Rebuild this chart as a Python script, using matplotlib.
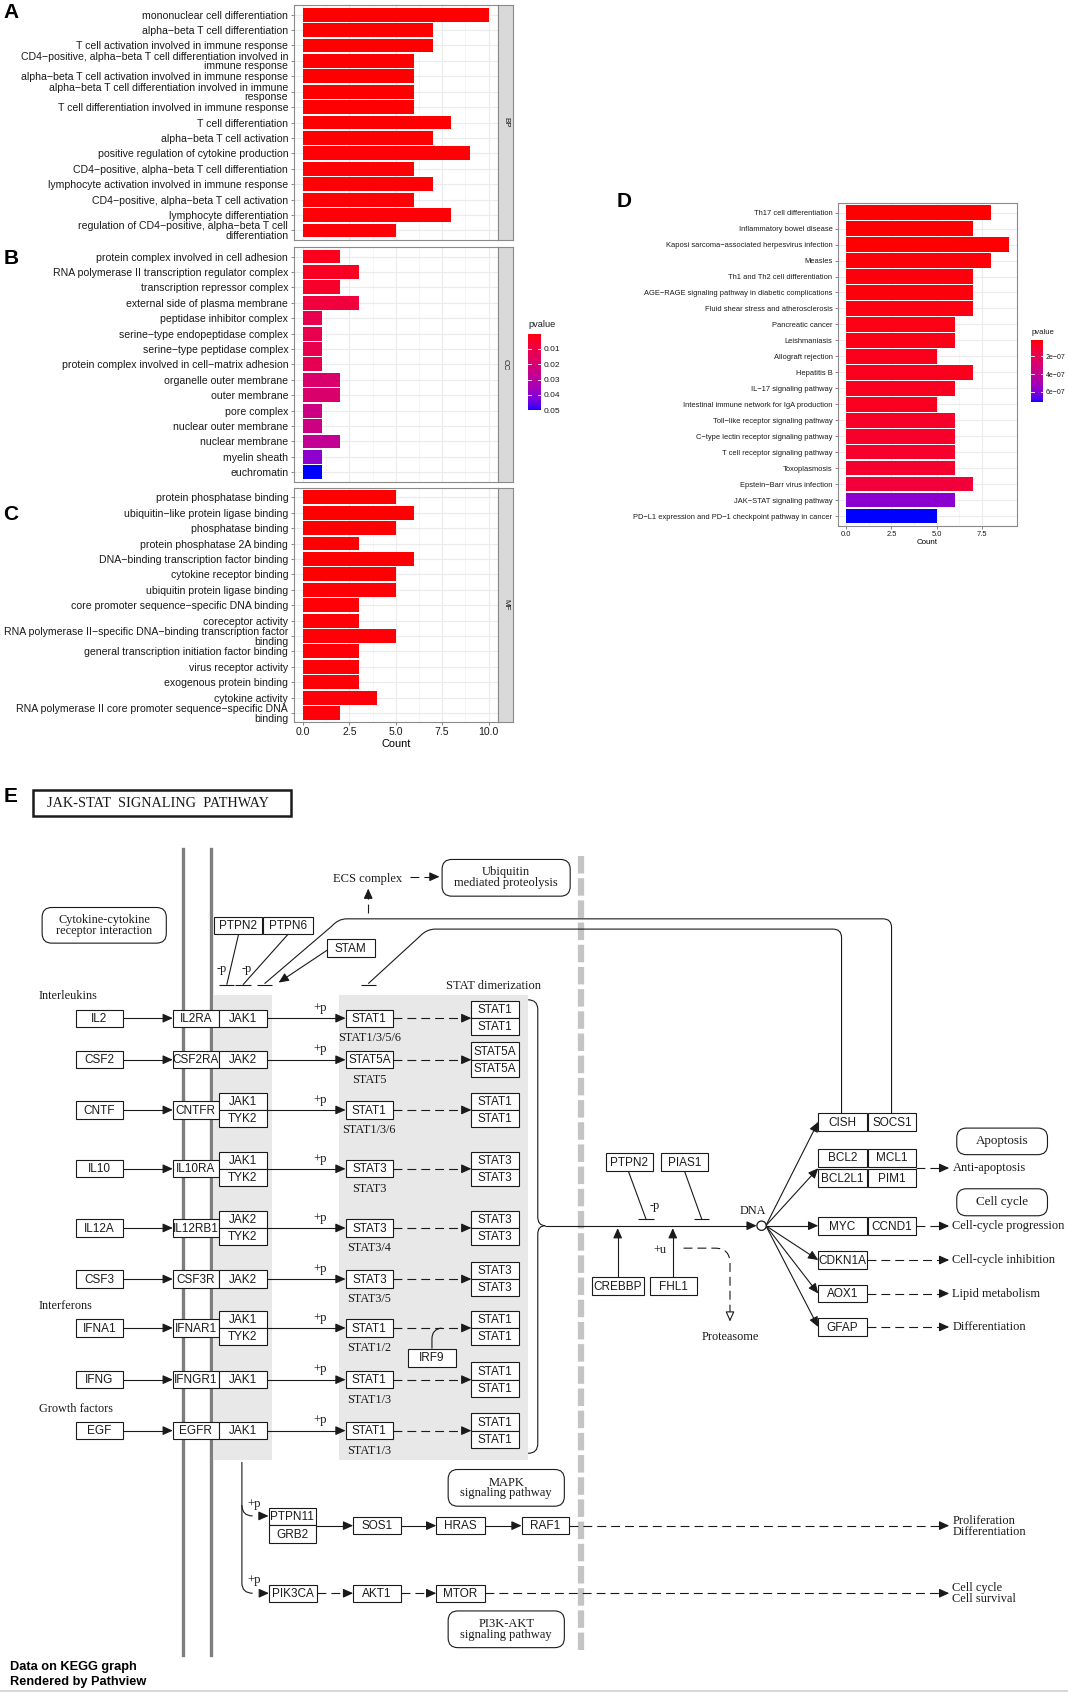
import numpy as np
import matplotlib
matplotlib.use("Agg")
import matplotlib.pyplot as plt
from matplotlib.colors import ListedColormap
from matplotlib.patches import Rectangle, FancyBboxPatch, Circle, PathPatch
from matplotlib.path import Path

plt.rcParams['font.family'] = ['Liberation Sans', 'DejaVu Sans']
SERIF = ['Liberation Serif', 'DejaVu Serif']

# ---------------- GO enrichment (panels A-C) ----------------
bp_terms = [
    "mononuclear cell differentiation",
    "alpha−beta T cell differentiation",
    "T cell activation involved in immune response",
    "CD4−positive, alpha−beta T cell differentiation involved in\nimmune response",
    "alpha−beta T cell activation involved in immune response",
    "alpha−beta T cell differentiation involved in immune\nresponse",
    "T cell differentiation involved in immune response",
    "T cell differentiation",
    "alpha−beta T cell activation",
    "positive regulation of cytokine production",
    "CD4−positive, alpha−beta T cell differentiation",
    "lymphocyte activation involved in immune response",
    "CD4−positive, alpha−beta T cell activation",
    "lymphocyte differentiation",
    "regulation of CD4−positive, alpha−beta T cell\ndifferentiation",
]
bp_count = [10, 7, 7, 6, 6, 6, 6, 8, 7, 9, 6, 7, 6, 8, 5]
bp_pvalue = [0.0001, 0.0002, 0.0002, 0.0003, 0.0003, 0.0003, 0.0003, 0.0004,
             0.0004, 0.0005, 0.0005, 0.0006, 0.0006, 0.0007, 0.0008]

cc_terms = [
    "protein complex involved in cell adhesion",
    "RNA polymerase II transcription regulator complex",
    "transcription repressor complex",
    "external side of plasma membrane",
    "peptidase inhibitor complex",
    "serine−type endopeptidase complex",
    "serine−type peptidase complex",
    "protein complex involved in cell−matrix adhesion",
    "organelle outer membrane",
    "outer membrane",
    "pore complex",
    "nuclear outer membrane",
    "nuclear membrane",
    "myelin sheath",
    "euchromatin",
]
cc_count = [2, 3, 2, 3, 1, 1, 1, 1, 2, 2, 1, 1, 2, 1, 1]
cc_pvalue = [0.003, 0.004, 0.005, 0.0085, 0.0125, 0.0125, 0.0125, 0.013,
             0.019, 0.019, 0.024, 0.024, 0.0275, 0.04, 0.05]

mf_terms = [
    "protein phosphatase binding",
    "ubiquitin−like protein ligase binding",
    "phosphatase binding",
    "protein phosphatase 2A binding",
    "DNA−binding transcription factor binding",
    "cytokine receptor binding",
    "ubiquitin protein ligase binding",
    "core promoter sequence−specific DNA binding",
    "coreceptor activity",
    "RNA polymerase II−specific DNA−binding transcription factor\nbinding",
    "general transcription initiation factor binding",
    "virus receptor activity",
    "exogenous protein binding",
    "cytokine activity",
    "RNA polymerase II core promoter sequence−specific DNA\nbinding",
]
mf_count = [5, 6, 5, 3, 6, 5, 5, 3, 3, 5, 3, 3, 3, 4, 2]
mf_pvalue = [0.0002, 0.0002, 0.0003, 0.0003, 0.0004, 0.0004, 0.0005, 0.0005,
             0.0006, 0.0006, 0.0007, 0.0007, 0.0008, 0.0009, 0.001]

go_p_limits = (0.0001, 0.05)
go_p_breaks = [0.01, 0.02, 0.03, 0.04, 0.05]

# ---------------- KEGG enrichment (panel D) ----------------
kegg_terms = [
    "Th17 cell differentiation",
    "Inflammatory bowel disease",
    "Kaposi sarcoma−associated herpesvirus infection",
    "Measles",
    "Th1 and Th2 cell differentiation",
    "AGE−RAGE signaling pathway in diabetic complications",
    "Fluid shear stress and atherosclerosis",
    "Pancreatic cancer",
    "Leishmaniasis",
    "Allograft rejection",
    "Hepatitis B",
    "IL−17 signaling pathway",
    "Intestinal immune network for IgA production",
    "Toll−like receptor signaling pathway",
    "C−type lectin receptor signaling pathway",
    "T cell receptor signaling pathway",
    "Toxoplasmosis",
    "Epstein−Barr virus infection",
    "JAK−STAT signaling pathway",
    "PD−L1 expression and PD−1 checkpoint pathway in cancer",
]
kegg_count = [8, 7, 9, 8, 7, 7, 7, 6, 6, 5, 7, 6, 5, 6, 6, 6, 6, 7, 6, 5]
kegg_pvalue = [2.0e-8, 2.5e-8, 2.5e-8, 3.0e-8, 3.5e-8, 3.5e-8, 4.0e-8, 4.5e-8,
               5.0e-8, 6.0e-8, 6.0e-8, 7.0e-8, 7.0e-8, 9.0e-8, 9.0e-8, 9.5e-8,
               1.0e-7, 1.3e-7, 5.8e-7, 7.1e-7]
kegg_p_limits = (2.0e-8, 7.1e-7)
kegg_p_breaks = [2e-7, 4e-7, 6e-7]
kegg_p_labels = ["2e−07", "4e−07", "6e−07"]

# ---------------- JAK-STAT pathway (panel E) ----------------
ligands = ["IL2", "CSF2", "CNTF", "IL10", "IL12A", "CSF3", "IFNA1", "IFNG", "EGF"]
receptors = ["IL2RA", "CSF2RA", "CNTFR", "IL10RA", "IL12RB1", "CSF3R", "IFNAR1", "IFNGR1", "EGFR"]
kinases = [["JAK1"], ["JAK2"], ["JAK1", "TYK2"], ["JAK1", "TYK2"], ["JAK2", "TYK2"],
           ["JAK2"], ["JAK1", "TYK2"], ["JAK1"], ["JAK1"]]
stats = ["STAT1", "STAT5A", "STAT1", "STAT3", "STAT3", "STAT3", "STAT1", "STAT1", "STAT1"]
stat_notes = ["STAT1/3/5/6", "STAT5", "STAT1/3/6", "STAT3", "STAT3/4", "STAT3/5",
              "STAT1/2", "STAT1/3", "STAT1/3"]
dimers = ["STAT1", "STAT5A", "STAT1", "STAT3", "STAT3", "STAT3", "STAT1", "STAT1", "STAT1"]
target_pairs = [["CISH", "SOCS1"], ["BCL2", "MCL1"], ["BCL2L1", "PIM1"], ["MYC", "CCND1"]]
target_single = ["CDKN1A", "AOX1", "GFAP"]
outcomes = ["Anti-apoptosis", "Cell-cycle progression", "Cell-cycle inhibition",
            "Lipid metabolism", "Differentiation"]
mapk_chain = ["SOS1", "HRAS", "RAF1"]
pi3k_chain = ["PIK3CA", "AKT1", "MTOR"]

# ---------------- colour scale (ggplot red -> blue in CIELAB) ----------------
M_XYZ = np.array([[0.4124, 0.3576, 0.1805], [0.2126, 0.7152, 0.0722], [0.0193, 0.1192, 0.9505]])
WHITE = np.array([0.95047, 1.0, 1.08883])


def to_lab(c):
    c = np.asarray(c, float)
    lin = np.where(c <= 0.04045, c / 12.92, ((c + 0.055) / 1.055) ** 2.4)
    xyz = M_XYZ @ lin / WHITE
    f = np.where(xyz > (6 / 29) ** 3, np.cbrt(xyz), xyz / (3 * (6 / 29) ** 2) + 4 / 29)
    return np.array([116 * f[1] - 16, 500 * (f[0] - f[1]), 200 * (f[1] - f[2])])


def from_lab(lab):
    L, a, b = lab
    fy = (L + 16) / 116
    f = np.array([fy + a / 500, fy, fy - b / 200])
    xyz = np.where(f > 6 / 29, f ** 3, 3 * (6 / 29) ** 2 * (f - 4 / 29)) * WHITE
    lin = np.clip(np.linalg.inv(M_XYZ) @ xyz, 0, 1)
    return np.clip(np.where(lin <= 0.0031308, 12.92 * lin, 1.055 * lin ** (1 / 2.4) - 0.055), 0, 1)


lab_lo, lab_hi = to_lab([1, 0, 0]), to_lab([0, 0, 1])
cmap = ListedColormap([from_lab(lab_lo + (lab_hi - lab_lo) * t) for t in np.linspace(0, 1, 256)])

# ---------------- figure ----------------
W, H = 989.0, 1568.0
fig = plt.figure(figsize=(10.68, 16.93), dpi=100)
fig.patch.set_facecolor('white')
ax0 = fig.add_axes([0, 0, 1, 1])
ax0.set_xlim(0, W)
ax0.set_ylim(H, 0)
ax0.axis('off')


def rect(x0, y0, x1, y1):
    return [x0 / W, 1 - y1 / H, (x1 - x0) / W, (y1 - y0) / H]


def bar_panel(box, terms, counts, pvals, lims, xlim, xticks, xlabels, fs, strip=None):
    ax = fig.add_axes(rect(*box))
    n = len(terms)
    ypos = np.arange(n, 0, -1)
    t = (np.array(pvals) - lims[0]) / (lims[1] - lims[0])
    ax.barh(ypos, counts, height=0.9, color=cmap(np.clip(t, 0, 1)), zorder=2)
    ax.set_xlim(*xlim)
    ax.set_ylim(0.4, n + 0.6)
    ax.set_yticks(ypos)
    ax.set_yticklabels(terms, fontsize=fs, color='#1A1A1A')
    for lbl in ax.get_yticklabels():
        lbl.set_linespacing(0.95)
    ax.set_xticks(xticks)
    minor = [(a + b) / 2 for a, b in zip(xticks[:-1], xticks[1:])]
    ax.set_xticks(minor, minor=True)
    ax.set_axisbelow(True)
    ax.grid(which='major', color='#EBEBEB', lw=0.8)
    ax.grid(which='minor', axis='x', color='#F3F3F3', lw=0.5)
    ax.tick_params(axis='y', length=2.5, width=0.5, color='#555555', pad=1.5)
    ax.tick_params(axis='x', which='minor', length=0)
    if xlabels is None:
        ax.tick_params(axis='x', which='major', length=0, labelbottom=False)
    else:
        ax.set_xticklabels(xlabels, fontsize=fs, color='#1A1A1A')
        ax.tick_params(axis='x', which='major', length=2.5, width=0.5, color='#555555', pad=1)
        ax.set_xlabel("Count", fontsize=fs + 0.3, labelpad=1)
    for s in ax.spines.values():
        s.set_color('#8A8A8A')
        s.set_linewidth(0.8)
    if strip is not None:
        axs = fig.add_axes(rect(box[2], box[1], box[2] + 14, box[3]))
        axs.set_facecolor('#D9D9D9')
        axs.set_xticks([])
        axs.set_yticks([])
        for s in axs.spines.values():
            s.set_color('#8A8A8A')
            s.set_linewidth(0.8)
        axs.text(0.5, 0.5, strip, rotation=-90, ha='center', va='center',
                 fontsize=5.8, color='#1A1A1A', transform=axs.transAxes)
    return ax


def colorbar(box, lims, breaks, labels, fs, title):
    ax = fig.add_axes(rect(*box))
    grad = np.linspace(0, 1, 256).reshape(-1, 1)
    ax.imshow(grad, aspect='auto', cmap=cmap, extent=[0, 1, lims[1], lims[0]])
    ax.set_ylim(lims[1], lims[0])
    ax.set_xlim(0, 1)
    ax.set_xticks([])
    ax.yaxis.tick_right()
    ax.set_yticks(breaks)
    ax.set_yticklabels(labels, fontsize=fs, color='#1A1A1A')
    ax.tick_params(axis='y', length=0, pad=2)
    for v in breaks:
        ax.plot([0, 0.2], [v, v], color='white', lw=0.6)
        ax.plot([0.8, 1], [v, v], color='white', lw=0.6)
    for s in ax.spines.values():
        s.set_visible(False)
    ax0.text(box[0], box[1] - 4, title, fontsize=fs + 0.6, ha='left', va='bottom', color='#1A1A1A')


go_ticks = [0, 2.5, 5, 7.5, 10]
bar_panel((272, 5, 461, 222), bp_terms, bp_count, bp_pvalue, go_p_limits, (-0.5, 10.5), go_ticks, None, 7.6, 'BP')
bar_panel((272, 229, 461, 446), cc_terms, cc_count, cc_pvalue, go_p_limits, (-0.5, 10.5), go_ticks, None, 7.6, 'CC')
bar_panel((272, 452, 461, 669), mf_terms, mf_count, mf_pvalue, go_p_limits, (-0.5, 10.5), go_ticks,
          ["0.0", "2.5", "5.0", "7.5", "10.0"], 7.6, 'MF')
colorbar((489, 309, 501, 380), go_p_limits, go_p_breaks, ["0.01", "0.02", "0.03", "0.04", "0.05"], 6.0, "pvalue")

bar_panel((776, 188, 942, 487), kegg_terms, kegg_count, kegg_pvalue, kegg_p_limits, (-0.45, 9.45),
          [0, 2.5, 5, 7.5], ["0.0", "2.5", "5.0", "7.5"], 5.4)
colorbar((955, 315, 966, 372), kegg_p_limits, kegg_p_breaks, kegg_p_labels, 5.0, "pvalue")

for letter, (lx, ly) in {"A": (3, 3), "B": (3, 231), "C": (3, 468), "D": (571, 178), "E": (3, 729)}.items():
    ax0.text(lx, ly, letter, fontsize=15, fontweight='bold', ha='left', va='top')

# ---------------- pathway drawing helpers ----------------
LW = 0.8
INK = '#1A1A1A'
NOTE_FS = 8.8


def line(xs, ys, dashed=False, z=3):
    ax0.plot(xs, ys, color=INK, lw=LW, ls=(0, (8, 4.5)) if dashed else '-', zorder=z,
             solid_capstyle='butt')


def head(x0, y0, x1, y1, hollow=False):
    d = np.hypot(x1 - x0, y1 - y0)
    ux, uy = (x1 - x0) / d, (y1 - y0) / d
    ax0.annotate('', xy=(x1, y1), xytext=(x1 - ux * 7, y1 - uy * 7), zorder=6,
                 arrowprops=dict(arrowstyle='-|>,head_length=0.6,head_width=0.27',
                                 fc='white' if hollow else INK, ec=INK, lw=LW,
                                 shrinkA=0, shrinkB=0, mutation_scale=10))


def arrow(x0, y0, x1, y1, dashed=False, hollow=False):
    d = np.hypot(x1 - x0, y1 - y0)
    ux, uy = (x1 - x0) / d, (y1 - y0) / d
    line([x0, x1 - ux * 5], [y0, y1 - uy * 5], dashed)
    head(x0, y0, x1, y1, hollow)


def inhibit(x0, y0, x1, y1, half=7):
    line([x0, x1], [y0, y1])
    line([x1 - half, x1 + half], [y1, y1])


def gene(x0, y0, x1, y1, label, fs=8.5):
    ax0.add_patch(Rectangle((x0, y0), x1 - x0, y1 - y0, fc='white', ec=INK, lw=LW, zorder=4))
    ax0.text((x0 + x1) / 2, (y0 + y1) / 2 + 0.6, label, ha='center', va='center',
             fontsize=fs, color=INK, zorder=5)


def rbox(x0, y0, x1, y1, label, fs=9.0):
    ax0.add_patch(FancyBboxPatch((x0, y0), x1 - x0, y1 - y0, boxstyle='round,pad=0,rounding_size=9',
                                 fc='white', ec=INK, lw=LW, zorder=4))
    ax0.text((x0 + x1) / 2, (y0 + y1) / 2, label, ha='center', va='center', fontsize=fs,
             family=SERIF, linespacing=0.85, color=INK, zorder=5)


def note(x, y, s, fs=NOTE_FS, ha='center', ls=1.0):
    ax0.text(x, y, s, ha=ha, va='center', fontsize=fs, family=SERIF, color=INK, zorder=5,
             linespacing=ls)


def curve(pts, codes, dashed=False):
    ax0.add_patch(PathPatch(Path(pts, codes), fill=False, ec=INK, lw=LW,
                            ls=(0, (8, 4.5)) if dashed else '-', zorder=3))


MV, L2, C3 = Path.MOVETO, Path.LINETO, Path.CURVE3

# ---------------- pathway layout ----------------
ax0.add_patch(Rectangle((30.4, 731.5), 239, 24.7, fc='white', ec=INK, lw=1.8))
ax0.text(146, 744.5, "JAK-STAT  SIGNALING  PATHWAY", ha='center', va='center',
         fontsize=10.3, family=SERIF, color=INK)

# membranes and shaded groups
for mx in (169.5, 195):
    ax0.plot([mx, mx], [786, 1533], color='#7E7E7E', lw=2.4, zorder=1.5)
ax0.plot([537.7, 537.7], [793, 1528], color='#C4C4C4', lw=4.5, ls=(0, (2.8, 0.75)), zorder=1.5)
ax0.add_patch(Rectangle((198, 921.3), 54, 430.7, fc='#E8E8E8', ec='none', zorder=1))
ax0.add_patch(Rectangle((313.5, 921.3), 175.7, 430.7, fc='#E8E8E8', ec='none', zorder=1))

row_y = [943, 981.5, 1028, 1082.5, 1137.3, 1184.6, 1229.9, 1277.8, 1325]
LIG = (70, 114)
REC = (160, 202.5)
KIN = (202.5, 247)
STA = (320, 364)
DIM = (436.5, 480.5)

for i, y in enumerate(row_y):
    gene(LIG[0], y - 8, LIG[1], y + 8, ligands[i])
    arrow(LIG[1], y, REC[0], y)
    gene(REC[0], y - 8, REC[1], y + 8, receptors[i])
    arrow(KIN[1], y, STA[0], y)
    if len(kinases[i]) == 1:
        gene(KIN[0], y - 8, KIN[1], y + 8, kinases[i][0])
    else:
        gene(KIN[0], y - 16, KIN[1], y, kinases[i][0])
        gene(KIN[0], y, KIN[1], y + 16, kinases[i][1])
    note(296, y - 9.5, "+p", fs=9.2)
    gene(STA[0], y - 8, STA[1], y + 8, stats[i])
    note(342, y + 18.5, stat_notes[i])
    arrow(STA[1], y, DIM[0], y, dashed=True)
    gene(DIM[0], y - 16, DIM[1], y, dimers[i])
    gene(DIM[0], y, DIM[1], y + 16, dimers[i])

note(35.7, 922.8, "Interleukins", ha='left')
note(35.7, 1210, "Interferons", ha='left')
note(35.7, 1305, "Growth factors", ha='left')
note(457, 913.6, "STAT dimerization", fs=9.0)
rbox(39, 840.5, 154, 873.5, "Cytokine-cytokine\nreceptor interaction", fs=8.8)

# IRF9 joins the IFNA1 dimerisation
gene(378, 1249, 422, 1266, "IRF9")
curve([(400, 1249), (400, 1240), (400, 1231), (409, 1230)], [MV, L2, C3, C3])

# regulators at the membrane
gene(198, 849, 243, 865, "PTPN2")
gene(244, 849, 289.5, 865, "PTPN6")
gene(302.5, 870, 347, 886.4, "STAM")
inhibit(221, 865, 210, 912)
inhibit(267, 865, 225, 912)
arrow(303, 880, 258, 910)
note(205, 897, "-p")
note(228, 897, "-p")

# SOCS1 / CISH feedback lines
curve([(825.6, 1031), (825.6, 859), (825.6, 851), (817.6, 851), (321, 851), (313, 851), (307, 858), (245, 911)],
      [MV, L2, C3, C3, L2, C3, C3, L2])
line([238, 252], [912, 912])
curve([(779.3, 1031), (779.3, 868.5), (779.3, 860.5), (771.3, 860.5), (403, 860.5), (395, 860.5), (389, 867), (341, 911)],
      [MV, L2, C3, C3, L2, C3, C3, L2])
line([334, 348], [912, 912])

# ubiquitin branch
note(340.6, 814, "ECS complex", fs=9.0)
arrow(341, 846, 341, 823, dashed=True)
arrow(380, 812, 407, 812, dashed=True)
rbox(409.4, 796, 528, 830, "Ubiquitin\nmediated proteolysis")

# brace collecting the dimers
curve([(489, 926), (498, 926), (498, 935), (498, 1127), (498, 1135.2), (505, 1135.2)], [MV, C3, C3, L2, C3, C3])
curve([(505, 1135.2), (498, 1135.2), (498, 1143), (498, 1337), (498, 1346), (489, 1346)], [MV, C3, C3, L2, C3, C3])

# nucleus
DNA = (705.2, 1135.2)
arrow(505, DNA[1], DNA[0] - 4.5, DNA[1])
ax0.add_patch(Circle(DNA, 4.3, fc='white', ec=INK, lw=0.9, zorder=6))
note(697, 1122, "DNA")
gene(560.8, 1068, 604.3, 1085, "PTPN2")
gene(611.7, 1068, 655.8, 1085, "PIAS1")
inhibit(582, 1085, 598.2, 1129)
inhibit(634, 1085, 649.8, 1129)
note(606, 1117, "-p")
gene(548, 1183, 596, 1199, "CREBBP")
gene(602, 1183, 645, 1199, "FHL1")
arrow(572, 1183, 572, 1137.5)
arrow(623, 1183, 623, 1137.5)
note(611, 1158, "+u")
curve([(633, 1156), (662, 1156), (676, 1156), (676, 1170), (676, 1216)], [MV, L2, C3, C3, L2], dashed=True)
head(676, 1210, 676, 1224, hollow=True)
note(676, 1238, "Proteasome")

TX0, TX1, TX2 = 757.7, 802.5, 848
pair_y = [1031, 1064.2, 1083, 1127.4]
for (a, b), y0 in zip(target_pairs, pair_y):
    gene(TX0, y0, TX1, y0 + 16.3, a)
    gene(TX1 + 1.5, y0, TX2, y0 + 16.3, b)
single_y = [1159, 1190, 1221]
for g, y0 in zip(target_single, single_y):
    gene(TX0, y0, TX1, y0 + 16.3, g)

for ty in [1039, 1082, 1135.2, 1167, 1198, 1229]:
    arrow(DNA[0] + 4, DNA[1], TX0, ty)

out_y = [1081.8, 1135.5, 1167, 1198, 1229]
out_x0 = [TX2, TX2, TX1, TX1, TX1]
for s, y, x0 in zip(outcomes, out_y, out_x0):
    arrow(x0, y, 879, y, dashed=True)
    note(882, y, s, fs=8.9, ha='left')
rbox(886, 1044.8, 970, 1069.4, "Apoptosis", fs=9.4)
rbox(886, 1101, 970, 1126, "Cell cycle", fs=9.4)

# MAPK and PI3K-AKT branches
curve([(224, 1354), (224, 1466), (224, 1475.6), (234, 1475.6)], [MV, L2, C3, C3])
curve([(224, 1394), (224, 1404), (234, 1404)], [MV, C3, C3])
head(234, 1475.6, 249, 1475.6)
head(234, 1404, 248.7, 1404)
note(235.8, 1393, "+p", fs=9.2)
note(235.8, 1463, "+p", fs=9.2)
gene(248.7, 1396.6, 292.7, 1412.3, "PTPN11")
gene(248.7, 1412.3, 292.7, 1429, "GRB2")

chain_x = [(327, 371.5), (404, 449), (483, 527)]
prev = 292.7
for g, (x0, x1) in zip(mapk_chain, chain_x):
    arrow(prev, 1413, x0, 1413)
    gene(x0, 1405, x1, 1421, g)
    prev = x1
arrow(527, 1413, 879, 1413, dashed=True)
note(882, 1414, "Proliferation\nDifferentiation", fs=8.9, ha='left', ls=0.85)

prev = None
for g, (x0, x1) in zip(pi3k_chain, [(249, 293.5)] + chain_x[:2]):
    if prev is not None:
        arrow(prev, 1475.6, x0, 1475.6, dashed=True)
    gene(x0, 1467.6, x1, 1483.6, g)
    prev = x1
arrow(449, 1475.6, 879, 1475.6, dashed=True)
note(882, 1476, "Cell cycle\nCell survival", fs=8.9, ha='left', ls=0.85)

rbox(415, 1361, 522.6, 1395, "MAPK\nsignaling pathway")
rbox(415, 1492, 522.6, 1526, "PI3K-AKT\nsignaling pathway")

ax0.text(9, 1544, "Data on KEGG graph", fontsize=9.2, fontweight='bold', ha='left', va='center')
ax0.text(9, 1557.7, "Rendered by Pathview", fontsize=9.2, fontweight='bold', ha='left', va='center')
ax0.plot([0, W], [1566, 1566], color='#CFCFCF', lw=1.2)

fig.savefig("out.png", dpi=100)
